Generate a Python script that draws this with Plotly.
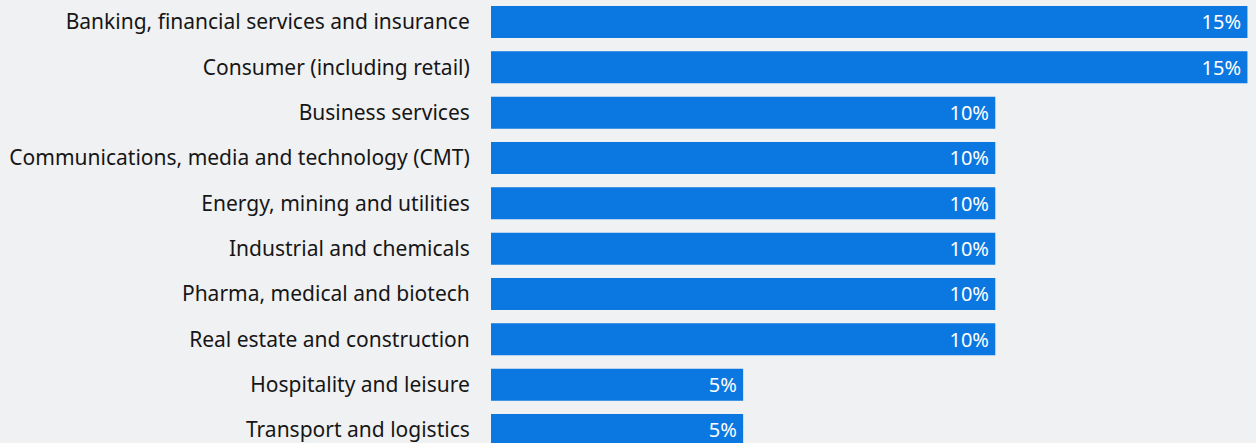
import plotly.graph_objects as go

categories = [
    "Banking, financial services and insurance",
    "Consumer (including retail)",
    "Business services",
    "Communications, media and technology (CMT)",
    "Energy, mining and utilities",
    "Industrial and chemicals",
    "Pharma, medical and biotech",
    "Real estate and construction",
    "Hospitality and leisure",
    "Transport and logistics",
]
values = [15, 15, 10, 10, 10, 10, 10, 10, 5, 5]
value_labels = ["15%", "15%", "10%", "10%", "10%", "10%", "10%", "10%", "5%", "5%"]

positions = list(range(len(categories)))

fig = go.Figure(
    go.Bar(
        x=values,
        y=positions,
        orientation="h",
        width=0.706,
        marker=dict(color="#0b77e1", line=dict(width=0)),
        text=[t + "\u2009" for t in value_labels],
        textposition="inside",
        insidetextanchor="end",
        textfont=dict(color="white", size=20, family="Noto Sans"),
        cliponaxis=False,
        hoverinfo="skip",
    )
)

fig.update_layout(
    width=1256,
    height=443,
    margin=dict(l=491, r=0, t=0, b=0),
    paper_bgcolor="#f0f1f3",
    plot_bgcolor="#f0f1f3",
    showlegend=False,
    font=dict(family="Noto Sans", size=21, color="#161616"),
    uniformtext=dict(minsize=20, mode="show"),
)
fig.update_xaxes(range=[0, 15.17], visible=False, fixedrange=True)
fig.update_yaxes(
    tickvals=positions,
    ticktext=categories,
    range=[9.287, -0.485],
    showgrid=False,
    zeroline=False,
    showline=False,
    ticks="outside",
    ticklen=16,
    tickcolor="rgba(0,0,0,0)",
    tickfont=dict(size=21, family="Noto Sans", color="#161616"),
    ticklabeloverflow="allow",
    fixedrange=True,
)

fig.write_html(
    "out.html",
    config={"displayModeBar": False},
    post_script="document.body.style.margin='0';document.body.style.background='#f0f1f3';",
)
